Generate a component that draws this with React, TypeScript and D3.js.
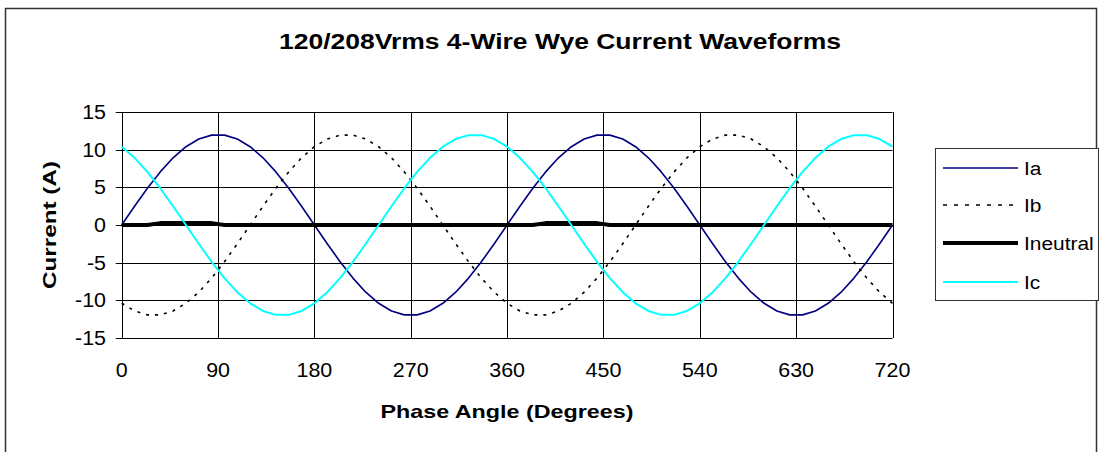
import * as d3 from "d3"

// phase angle, 12 degree steps 0..720
const angles = d3.range(0, 721, 12)

const ia = [
  0, 2.49, 4.88, 7.05, 8.92, 10.39, 11.41, 11.93, 11.93, 11.41, 10.39, 8.92, 7.05, 4.88, 2.49,
  0, -2.49, -4.88, -7.05, -8.92, -10.39, -11.41, -11.93, -11.93, -11.41, -10.39, -8.92, -7.05, -4.88, -2.49,
  0, 2.49, 4.88, 7.05, 8.92, 10.39, 11.41, 11.93, 11.93, 11.41, 10.39, 8.92, 7.05, 4.88, 2.49,
  0, -2.49, -4.88, -7.05, -8.92, -10.39, -11.41, -11.93, -11.93, -11.41, -10.39, -8.92, -7.05, -4.88, -2.49,
  0,
]

const ib = [
  -10.39, -11.41, -11.93, -11.93, -11.41, -10.39, -8.92, -7.05, -4.88, -2.49,
  0, 2.49, 4.88, 7.05, 8.92, 10.39, 11.41, 11.93, 11.93, 11.41, 10.39, 8.92, 7.05, 4.88, 2.49,
  0, -2.49, -4.88, -7.05, -8.92,
  -10.39, -11.41, -11.93, -11.93, -11.41, -10.39, -8.92, -7.05, -4.88, -2.49,
  0, 2.49, 4.88, 7.05, 8.92, 10.39, 11.41, 11.93, 11.93, 11.41, 10.39, 8.92, 7.05, 4.88, 2.49,
  0, -2.49, -4.88, -7.05, -8.92,
  -10.39,
]

const ic = [
  10.39, 8.92, 7.05, 4.88, 2.49, 0, -2.49, -4.88, -7.05, -8.92,
  -10.39, -11.41, -11.93, -11.93, -11.41, -10.39, -8.92, -7.05, -4.88, -2.49,
  0, 2.49, 4.88, 7.05, 8.92, 10.39, 11.41, 11.93, 11.93, 11.41,
  10.39, 8.92, 7.05, 4.88, 2.49, 0, -2.49, -4.88, -7.05, -8.92,
  -10.39, -11.41, -11.93, -11.93, -11.41, -10.39, -8.92, -7.05, -4.88, -2.49,
  0, 2.49, 4.88, 7.05, 8.92, 10.39, 11.41, 11.93, 11.93, 11.41,
  10.39,
]

const ineutral = [
  0, 0, 0, 0.25, 0.25, 0.25, 0.25, 0.25, 0, 0,
  0, 0, 0, 0, 0, 0, 0, 0, 0, 0,
  0, 0, 0, 0, 0, 0, 0, 0, 0, 0,
  0, 0, 0, 0.25, 0.25, 0.25, 0.25, 0.25, 0, 0,
  0, 0, 0, 0, 0, 0, 0, 0, 0, 0,
  0, 0, 0, 0, 0, 0, 0, 0, 0, 0,
  0,
]

const xTicks = [0, 90, 180, 270, 360, 450, 540, 630, 720]
const yTicks = [15, 10, 5, 0, -5, -10, -15]

const series = [
  { name: "Ia", values: ia, color: "#000080", width: 1.6, dash: "", legendDash: "" },
  { name: "Ib", values: ib, color: "#000000", width: 1.6, dash: "3,6", legendDash: "4,7" },
  { name: "Ineutral", values: ineutral, color: "#000000", width: 4, dash: "", legendDash: "" },
  { name: "Ic", values: ic, color: "#00ffff", width: 2, dash: "", legendDash: "" },
]

const font = "'Liberation Sans', Arial, sans-serif"
const SX = 1.1 // reference text is a bit wider than tall

// text stretched horizontally around its anchor point
function Txt({ x, y, anchor = "start", size, children }: any) {
  return (
    <g transform={`translate(${x},${y}) scale(${SX},1)`}>
      <text x={0} y={0} textAnchor={anchor} fontSize={size}>
        {children}
      </text>
    </g>
  )
}

export default function App() {
  const x = d3.scaleLinear().domain([0, 720]).range([121.7, 892.5])
  const y = d3.scaleLinear().domain([-15, 15]).range([338, 112])

  const line = (vals: number[]) =>
    d3
      .line<number>()
      .x((_, i) => x(angles[i]))
      .y((d) => y(d))(vals) || ""

  const legendRows = [168, 205, 243, 282]

  return (
    <svg
      width={1101}
      height={452}
      style={{ position: "absolute", left: 0, top: 0, background: "#fff" }}
      fontFamily={font}
    >
      {/* outer chart border */}
      <rect x={5.5} y={8.5} width={1091} height={460} fill="none" stroke="#333" strokeWidth={1.5} />

      <text x={560} y={49} textAnchor="middle" fontSize={22} fontWeight="bold" textLength={562} lengthAdjust="spacingAndGlyphs">
        120/208Vrms 4-Wire Wye Current Waveforms
      </text>

      {/* grid */}
      {yTicks.map((t) => (
        <line key={"h" + t} x1={x(0) - 6} x2={x(720)} y1={Math.round(y(t)) + 0.5} y2={Math.round(y(t)) + 0.5} stroke="#000" strokeWidth={1} />
      ))}
      {xTicks.map((t) => (
        <line key={"v" + t} x1={Math.round(x(t)) + 0.5} x2={Math.round(x(t)) + 0.5} y1={y(15)} y2={y(-15)} stroke="#000" strokeWidth={1} />
      ))}

      {/* y tick labels */}
      {yTicks.map((t) => (
        <Txt key={"yl" + t} x={106} y={y(t) + 7} anchor="end" size={19.5}>
          {t}
        </Txt>
      ))}
      {/* x tick labels */}
      {xTicks.map((t) => (
        <Txt key={"xl" + t} x={x(t)} y={377} anchor="middle" size={19.5}>
          {t}
        </Txt>
      ))}

      <text x={507} y={418} textAnchor="middle" fontSize={19} fontWeight="bold" textLength={253} lengthAdjust="spacingAndGlyphs">
        Phase Angle (Degrees)
      </text>
      <text transform={`translate(56,225) rotate(-90)`} textAnchor="middle" fontSize={19} fontWeight="bold" textLength={128} lengthAdjust="spacingAndGlyphs">
        Current (A)
      </text>

      {/* series */}
      {series.map((s) => (
        <path
          key={s.name}
          d={line(s.values)}
          fill="none"
          stroke={s.color}
          strokeWidth={s.width}
          strokeDasharray={s.dash || undefined}
          strokeLinejoin="round"
        />
      ))}

      {/* legend */}
      <rect x={935.5} y={148.5} width={163} height={152} fill="#fff" stroke="#333" strokeWidth={1} />
      {series.map((s, i) => (
        <g key={"lg" + s.name}>
          <line
            x1={943}
            x2={1018}
            y1={legendRows[i]}
            y2={legendRows[i]}
            stroke={s.color}
            strokeWidth={s.width}
            strokeDasharray={s.legendDash || undefined}
          />
          <Txt x={1024} y={legendRows[i] + 7} size={19}>
            {s.name}
          </Txt>
        </g>
      ))}
    </svg>
  )
}
